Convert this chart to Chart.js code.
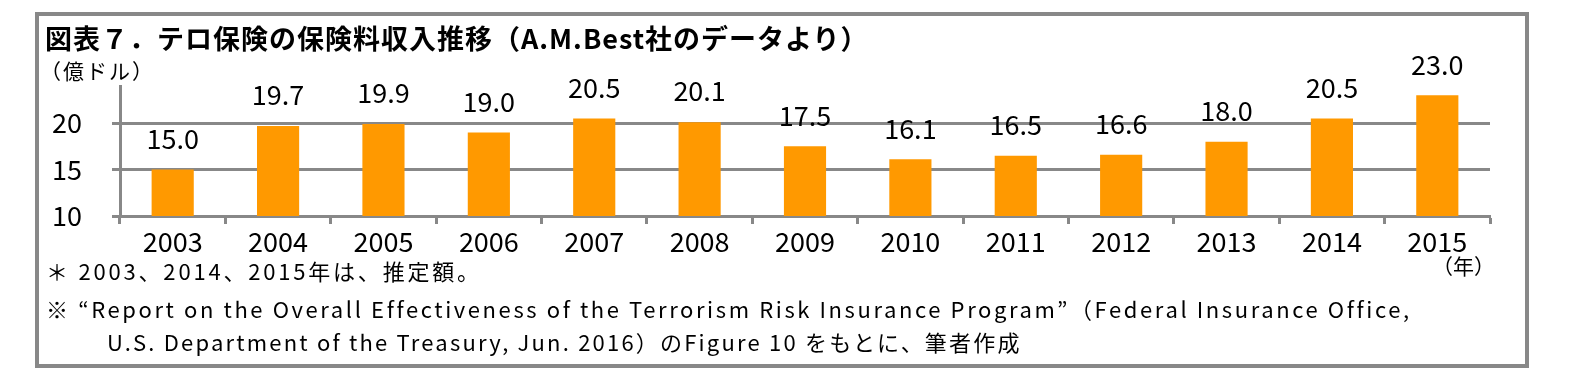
<!DOCTYPE html>
<html>
<head>
<meta charset="utf-8">
<script src="https://cdn.jsdelivr.net/npm/chart.js@4/dist/chart.umd.min.js"></script>
<style>
  html, body { margin: 0; padding: 0; background: #fff; }
  #wrap { position: relative; width: 1570px; height: 386px; overflow: hidden; }
  #frame { position: absolute; left: 35px; top: 12px; width: 1486px; height: 348px; border: 4px solid #888; }
  .t { position: absolute; white-space: nowrap; color: #000; font-family: "Noto Sans CJK JP", sans-serif; }
  #title { left: 45px; top: 22px; font-size: 27px; font-weight: 700; line-height: 32px; letter-spacing: 1px; }
  #unit { left: 40px; top: 57px; font-size: 21px; line-height: 26px; letter-spacing: 2px; }
  #year { left: 1432px; top: 252px; font-size: 21px; line-height: 26px; }
  .note { font-size: 22px; line-height: 26px; letter-spacing: 2.6px; }
  #n1 { left: 46px; top: 257px; letter-spacing: 2.8px; }
  #n2 { left: 46px; top: 295px; }
  #n3 { left: 107px; top: 328px; letter-spacing: 2.2px; }
  canvas { position: absolute; left: 0; top: 0; }
</style>
</head>
<body>
<div id="wrap">
  <div id="frame"></div>
  <canvas id="myChart" width="1570" height="386"></canvas>
  <div class="t" id="title">図表７．テロ保険の保険料収入推移（A.M.Best社のデータより）</div>
  <div class="t" id="unit">（億ドル）</div>
  <div class="t" id="year">（年）</div>
  <div class="t note" id="n1">＊ 2003、2014、2015年は、推定額。</div>
  <div class="t note" id="n2">※ “Report on the Overall Effectiveness of the Terrorism Risk Insurance Program”（Federal Insurance Office,</div>
  <div class="t note" id="n3">U.S. Department of the Treasury, Jun. 2016）のFigure 10 をもとに、筆者作成</div>
</div>
<script>
const years = ['2003', '2004', '2005', '2006', '2007', '2008', '2009', '2010', '2011', '2012', '2013', '2014', '2015'];
const premiums = [15.0, 19.7, 19.9, 19.0, 20.5, 20.1, 17.5, 16.1, 16.5, 16.6, 18.0, 20.5, 23.0];
const gridValues = [15, 20];

const numFont = '"Noto Sans CJK JP", sans-serif';

// value labels above the bars
const barLabels = {
    id: 'barLabels',
    afterDatasetsDraw(chart) {
        const ctx = chart.ctx;
        const meta = chart.getDatasetMeta(0);
        ctx.save();
        ctx.font = '27px ' + numFont;
        ctx.fillStyle = '#000';
        ctx.textAlign = 'center';
        ctx.textBaseline = 'middle';
        meta.data.forEach(function(bar, i) {
            ctx.fillText(premiums[i].toFixed(1), bar.x, bar.y - 31);
        });
        ctx.restore();
    }
};

window.addEventListener('load', function() {
    let ctx = document.getElementById('myChart').getContext('2d');
    new Chart(ctx, {
        type: 'bar',
        data: {
            labels: years,
            datasets: [{
                data: premiums,
                backgroundColor: '#FF9900',
                borderWidth: 0,
                barPercentage: 0.4,
                categoryPercentage: 1.0
            }]
        },
        options: {
            responsive: false,
            animation: false,
            events: [],
            layout: { padding: { left: 40, right: 80, top: 86, bottom: 130 } },
            plugins: { legend: { display: false }, tooltip: { enabled: false } },
            scales: {
                x: {
                    afterFit(scale) { scale.height = 40; },
                    border: { color: '#888', width: 3 },
                    grid: {
                        offset: true,
                        drawOnChartArea: false,
                        tickLength: 8,
                        tickColor: '#888',
                        tickWidth: 3
                    },
                    ticks: {
                        color: '#000',
                        padding: 2,
                        font: { family: numFont, size: 27 }
                    }
                },
                y: {
                    min: 10,
                    max: 24,
                    afterFit(scale) { scale.width = 80; },
                    border: { color: '#888', width: 3 },
                    grid: {
                        color: function(c) { return gridValues.includes(c.tick.value) ? '#888' : 'rgba(0,0,0,0)'; },
                        lineWidth: 3,
                        borderDash: [3, 2],
                        tickColor: function(c) { return c.tick.value === 24 ? 'rgba(0,0,0,0)' : '#888'; },
                        tickWidth: 3,
                        tickBorderDash: [],
                        tickLength: 8
                    },
                    ticks: {
                        stepSize: 5,
                        color: '#000',
                        padding: 30,
                        font: { family: numFont, size: 27 },
                        callback: function(v) { return v === 24 ? '' : v; }
                    }
                }
            }
        },
        plugins: [barLabels]
    });
});
</script>
</body>
</html>
